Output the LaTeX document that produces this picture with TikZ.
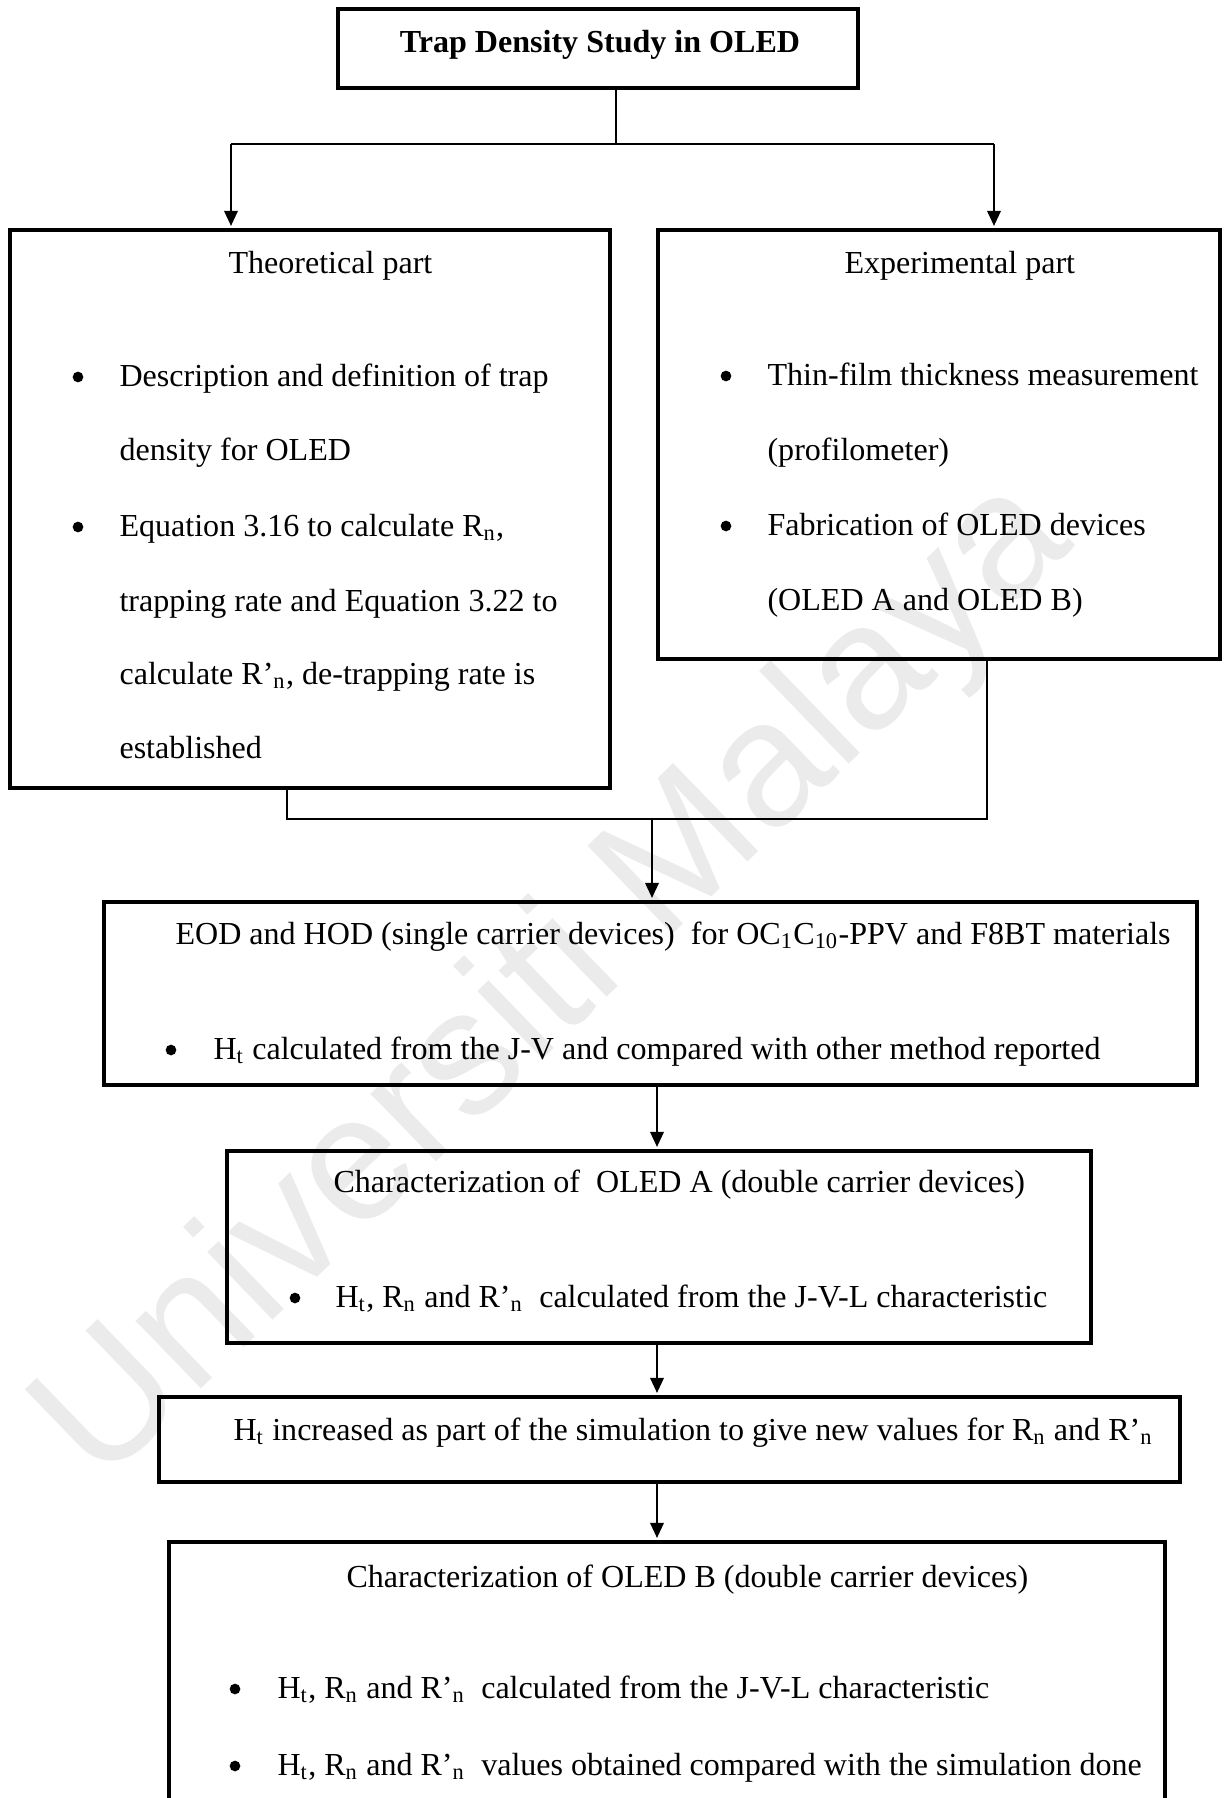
\documentclass[tikz,border=0pt]{standalone}
\usepackage{fontspec}
\setmainfont{Liberation Serif}
\newfontfamily\markfont{Liberation Sans}
\usetikzlibrary{arrows.meta,fit}

\newcommand{\Hsub}{H\textsubscript{t}}
\newcommand{\Rsub}{R\textsubscript{n}}
\newcommand{\Rpsub}{R’\textsubscript{n}}

\begin{document}
\begin{tikzpicture}[x=0.365pt,y=-0.365pt,
	box/.style={draw,line width=1.6pt,inner sep=0pt},
	txt/.style={anchor=base west,inner sep=0pt,font=\fontsize{11.7}{14}\selectfont},
	dot/.style={circle,fill,inner sep=0pt,minimum size=3.9pt},
	link/.style={line width=0.55pt},
	arr/.style={line width=0.55pt,shorten >=0.7pt,-{Triangle[length=5.5pt,width=5pt]}}]
	\useasboundingbox (0,0) rectangle (1227,1798);
	\clip (0,0) rectangle (1227,1798);
	% watermark
	\node[rotate=44,text=black!8,font=\markfont\fontsize{65}{65}\selectfont] (mark) at (556,983) {Universiti Malaya};
	% boxes
	\node[box,fit={(338,9) (858,88)}] (title) {};
	\node[box,fit={(10,230) (610,788)}] (theo) {};
	\node[box,fit={(658,230) (1220,659)}] (expt) {};
	\node[box,fit={(104,902) (1197,1085)}] (eod) {};
	\node[box,fit={(227,1151) (1091,1343)}] (oleda) {};
	\node[box,fit={(159,1397) (1180,1482)}] (sim) {};
	\node[box,fit={(169,1542) (1165,1860)}] (oledb) {};
	% title
	\node[txt,anchor=base,font=\fontsize{11.7}{14}\selectfont\bfseries] (titletxt) at (600,52) {Trap Density Study in OLED};
	% theoretical part
	\node[txt] (theohead) at (228,273) {Theoretical part};
	\node[dot] (theodot1) at (78,377) {};
	\node[dot] (theodot2) at (78,527) {};
	\node[txt] (theo1) at (119,386) {Description and definition of trap};
	\node[txt] (theo2) at (119,460) {density for OLED};
	\node[txt] (theo3) at (119,536) {Equation 3.16 to calculate \Rsub,};
	\node[txt] (theo4) at (119,611) {trapping rate and Equation 3.22 to};
	\node[txt] (theo5) at (119,684) {calculate \Rpsub, de-trapping rate is};
	\node[txt] (theo6) at (119,758) {established};
	% experimental part
	\node[txt] (expthead) at (844,273) {Experimental part};
	\node[dot] (exptdot1) at (726,376) {};
	\node[dot] (exptdot2) at (726,526) {};
	\node[txt] (expt1) at (767,385) {Thin-film thickness measurement};
	\node[txt] (expt2) at (767,460) {(profilometer)};
	\node[txt] (expt3) at (767,535) {Fabrication of OLED devices};
	\node[txt] (expt4) at (767,610) {(OLED A and OLED B)};
	% single carrier devices
	\node[txt] (eodhead) at (175,944) {EOD and HOD (single carrier devices)~ for OC\textsubscript{1}C\textsubscript{10}-PPV and F8BT materials};
	\node[dot] (eoddot) at (171,1050) {};
	\node[txt] (eod1) at (213,1059) {\Hsub{} calculated from the J-V and compared with other method reported};
	% OLED A
	\node[txt] (oledahead) at (333,1192) {Characterization of~ OLED A (double carrier devices)};
	\node[dot] (oledadot) at (295,1298) {};
	\node[txt] (oleda1) at (335,1307) {\Hsub, \Rsub{} and \Rpsub~ calculated from the J-V-L characteristic};
	% simulation
	\node[txt] (simtxt) at (233,1440) {\Hsub{} increased as part of the simulation to give new values for \Rsub{} and \Rpsub};
	% OLED B
	\node[txt] (oledbhead) at (346,1587) {Characterization of OLED B (double carrier devices)};
	\node[dot] (oledbdot1) at (235,1689) {};
	\node[dot] (oledbdot2) at (235,1766) {};
	\node[txt] (oledb1) at (277,1698) {\Hsub, \Rsub{} and \Rpsub~ calculated from the J-V-L characteristic};
	\node[txt] (oledb2) at (277,1775) {\Hsub, \Rsub{} and \Rpsub~ values obtained compared with the simulation done};
	% connectors
	\coordinate (topjoin) at (616,144);
	\coordinate (splitl) at (231,144);
	\coordinate (splitr) at (994,144);
	\draw[link] (title.south -| topjoin) -- (topjoin);
	\draw[link] (splitl) -- (splitr);
	\draw[arr] (splitl) -- (splitl |- theo.north);
	\draw[arr] (splitr) -- (splitr |- expt.north);
	\coordinate (joinl) at (287,819);
	\coordinate (joinr) at (987,819);
	\coordinate (merge) at (652,819);
	\draw[link] (theo.south -| joinl) -- (joinl) -- (joinr) -- (expt.south -| joinr);
	\draw[arr] (merge) -- (merge |- eod.north);
	\coordinate (spine) at (657,0);
	\draw[arr] (eod.south -| spine) -- (oleda.north -| spine);
	\draw[arr] (oleda.south -| spine) -- (sim.north -| spine);
	\draw[arr] (sim.south -| spine) -- (oledb.north -| spine);
\end{tikzpicture}
\end{document}
